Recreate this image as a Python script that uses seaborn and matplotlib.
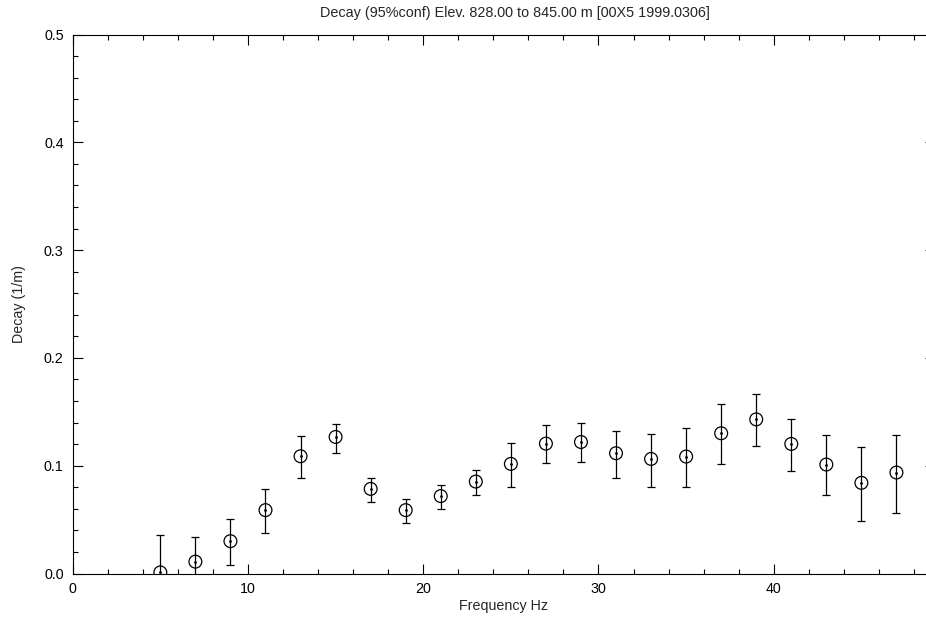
import numpy as np
import pandas as pd
import matplotlib
matplotlib.use("Agg")
import matplotlib.pyplot as plt
import seaborn as sns
from matplotlib.ticker import MultipleLocator

# Decay estimates with 95% confidence bounds per frequency
freq = [5, 7, 9, 11, 13, 15, 17, 19, 21, 23, 25, 27, 29, 31, 33, 35, 37, 39, 41, 43, 45, 47]
decay = [0.001, 0.011, 0.030, 0.0588, 0.1088, 0.1267, 0.0785, 0.0588, 0.0718, 0.0853, 0.1017,
         0.1205, 0.1220, 0.1116, 0.1063, 0.1085, 0.1301, 0.1430, 0.1202, 0.1011, 0.0841, 0.0937]
upper = [0.036, 0.034, 0.0507, 0.0782, 0.1276, 0.1390, 0.0884, 0.0693, 0.0822, 0.0961, 0.1208,
         0.1378, 0.1396, 0.1326, 0.1298, 0.1354, 0.1569, 0.1662, 0.1433, 0.1285, 0.1178, 0.1289]
lower = [-0.034, -0.012, 0.0076, 0.0378, 0.0887, 0.1119, 0.0668, 0.0465, 0.0594, 0.0724, 0.0801,
         0.1026, 0.1030, 0.0884, 0.0804, 0.0798, 0.1017, 0.1180, 0.0952, 0.0724, 0.0489, 0.0563]

title = "Decay (95%conf) Elev. 828.00 to 845.00 m [00X5 1999.0306]"
xlabel = "Frequency Hz"
ylabel = "Decay (1/m)"

df = pd.DataFrame({"freq": freq, "decay": decay, "upper": upper, "lower": lower})

sns.set_style("ticks")
plt.rcParams["font.family"] = ["Liberation Sans", "DejaVu Sans"]

fig = plt.figure(figsize=(9.26, 6.23), dpi=100)
W, H = 926, 623
x0, x1 = 72.7, 935.0
y0, y1 = 573.5, 34.6
ax = fig.add_axes([x0 / W, (H - y0) / H, (x1 - x0) / W, (y0 - y1) / H])

yerr = np.vstack([df["decay"] - df["lower"], df["upper"] - df["decay"]])
ax.errorbar(df["freq"], df["decay"], yerr=yerr, fmt="none", ecolor="black",
            elinewidth=0.9, capsize=3.2, capthick=0.9, zorder=2)
sns.scatterplot(data=df, x="freq", y="decay", ax=ax, marker="o", s=85,
                facecolor="none", edgecolor="black", linewidth=0.9, zorder=3)
sns.scatterplot(data=df, x="freq", y="decay", ax=ax, marker="o", s=4,
                color="black", linewidth=0, zorder=4)

ax.set_xlim(0, 49.2)
ax.set_ylim(0, 0.5)
ax.xaxis.set_major_locator(MultipleLocator(10))
ax.xaxis.set_minor_locator(MultipleLocator(2))
ax.yaxis.set_major_locator(MultipleLocator(0.1))
ax.yaxis.set_minor_locator(MultipleLocator(0.02))
ax.xaxis.set_major_formatter(matplotlib.ticker.FormatStrFormatter("%d"))
ax.yaxis.set_major_formatter(matplotlib.ticker.FormatStrFormatter("%.1f"))

ax.tick_params(which="both", direction="in", top=True, right=True,
               color="black", width=0.8, labelsize=10.3, labelcolor="black")
ax.tick_params(which="major", length=7.2)
ax.tick_params(which="minor", length=3.6)
ax.tick_params(axis="x", which="major", pad=6)
ax.tick_params(axis="y", which="major", pad=6.5)

for sp in ax.spines.values():
    sp.set_visible(True)
    sp.set_color("black")
    sp.set_linewidth(0.8)

ax.set_xlabel(xlabel, fontsize=10.3, labelpad=2)
ax.set_ylabel(ylabel, fontsize=10.3, labelpad=13)
ax.grid(False)

fig.text(515 / W, 1 - 13 / H, title, ha="center", va="center", fontsize=10.4)

fig.savefig("out.png", dpi=100)
